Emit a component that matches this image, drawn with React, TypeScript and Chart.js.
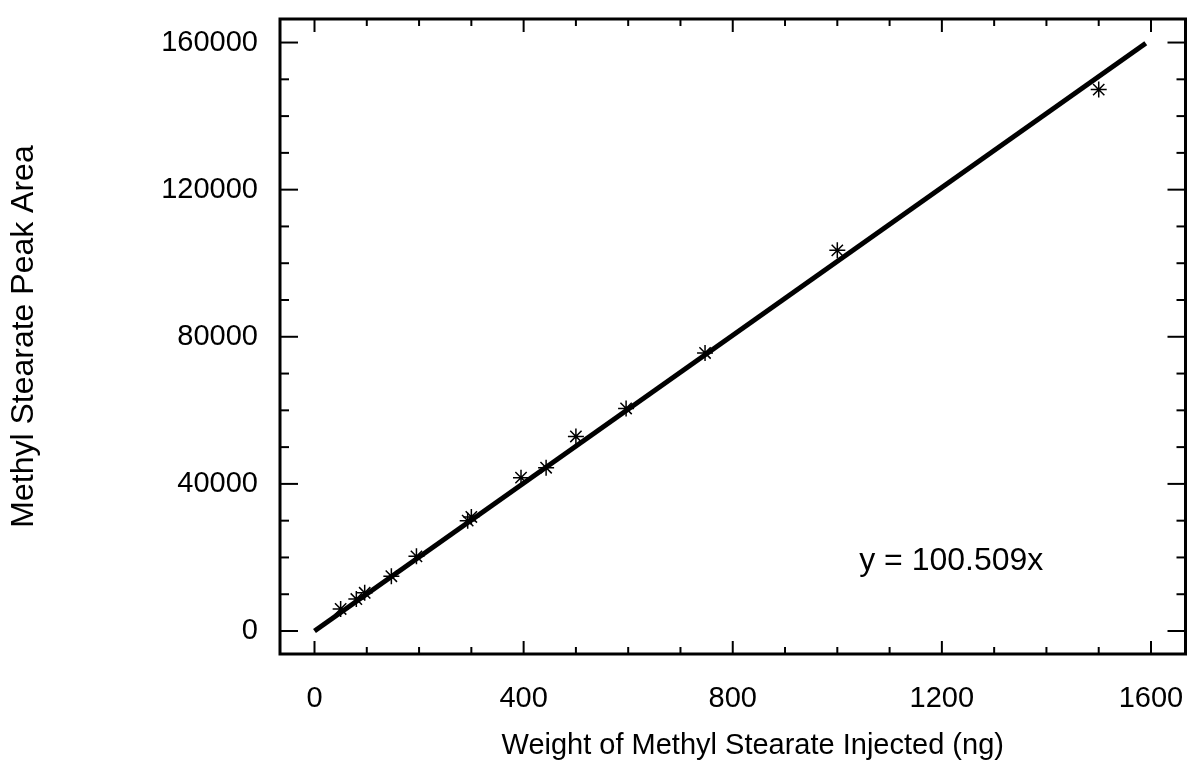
import React, { useEffect, useRef } from "react";
import { Chart, registerables } from "chart.js";

Chart.register(...registerables);

// Measured calibration points (ng injected vs. peak area)
const weightNg = [50, 80, 96, 147, 195, 293, 300, 395, 443, 500, 596, 747, 1000, 1500];
const peakArea = [6000, 8700, 10400, 14900, 20300, 30000, 31000, 41700, 44400, 52900, 60500, 75600, 103500, 147200];

// Fitted regression line y = 100.509x (end points)
const fitX = [0, 1590];
const fitY = [0, 159809];

// Axis tick labels
const xTickLabels = [0, 400, 800, 1200, 1600];
const yTickLabels = [0, 40000, 80000, 120000, 160000];
const xMinorTicks = [0, 100, 200, 300, 400, 500, 600, 700, 800, 900, 1000, 1100, 1200, 1300, 1400, 1500, 1600];
const yMinorTicks = [0, 10000, 20000, 30000, 40000, 50000, 60000, 70000, 80000, 90000, 100000, 110000, 120000, 130000, 140000, 150000, 160000];

const xTitle = "Weight of Methyl Stearate Injected (ng)";
const yTitle = "Methyl Stearate Peak Area";
const equationText = "y = 100.509x";
const equationAt = { x: 1218, y: 19000 };

const FONT = '"Liberation Sans", Arial, Helvetica, sans-serif';

const framePlugin = {
  id: "frameAndInwardTicks",
  afterDatasetsDraw(chart: any) {
    const { ctx, chartArea: a, scales } = chart;
    const xs = scales.x;
    const ys = scales.y;
    ctx.save();
    ctx.strokeStyle = "#000";
    ctx.lineCap = "butt";
    ctx.lineWidth = 2;
    const line = (x1: number, y1: number, x2: number, y2: number) => {
      ctx.beginPath();
      ctx.moveTo(x1, y1);
      ctx.lineTo(x2, y2);
      ctx.stroke();
    };
    xMinorTicks.forEach((v) => {
      const px = xs.getPixelForValue(v);
      const L = xTickLabels.includes(v) ? 13 : 7;
      line(px, a.bottom, px, a.bottom - L);
      line(px, a.top, px, a.top + L);
    });
    yMinorTicks.forEach((v) => {
      const py = ys.getPixelForValue(v);
      const L = yTickLabels.includes(v) ? 18 : 9;
      line(a.left, py, a.left + L, py);
      line(a.right, py, a.right - L, py);
    });
    ctx.lineWidth = 3;
    ctx.strokeRect(a.left, a.top, a.right - a.left, a.bottom - a.top);

    ctx.fillStyle = "#000";
    ctx.textAlign = "center";
    ctx.textBaseline = "middle";
    ctx.font = `32px ${FONT}`;
    ctx.fillText(equationText, xs.getPixelForValue(equationAt.x), ys.getPixelForValue(equationAt.y));

    // x-axis title (slightly right of centre, as in the original)
    ctx.font = `29px ${FONT}`;
    ctx.fillText(xTitle, (a.left + a.right) / 2 + 20, a.bottom + 92);
    ctx.restore();
  },
};

export default function App() {
  const ref = useRef<HTMLCanvasElement | null>(null);

  useEffect(() => {
    if (!ref.current) return;
    const chart = new Chart(ref.current, {
      type: "scatter",
      data: {
        datasets: [
          {
            label: "Fit",
            type: "line",
            data: fitX.map((x, i) => ({ x, y: fitY[i] })),
            borderColor: "#000",
            borderWidth: 5,
            pointRadius: 0,
            fill: false,
            tension: 0,
          },
          {
            label: "Methyl stearate",
            data: weightNg.map((x, i) => ({ x, y: peakArea[i] })),
            pointStyle: "star",
            pointRadius: 8,
            borderColor: "#000",
            backgroundColor: "#000",
            borderWidth: 1.5,
          },
        ],
      },
      options: {
        responsive: false,
        animation: false,
        layout: { padding: { top: 19, right: 6, left: 0, bottom: 0 } },
        plugins: { legend: { display: false }, tooltip: { enabled: false } },
        scales: {
          x: {
            type: "linear",
            min: -66,
            max: 1666,
            grid: { display: false, drawTicks: false },
            border: { display: false },
            afterBuildTicks: (s: any) => {
              s.ticks = xTickLabels.map((value) => ({ value }));
            },
            afterFit: (s: any) => {
              s.height = 107;
              s.paddingLeft = 0;
              s.paddingRight = 0;
              s.paddingTop = 0;
              s.paddingBottom = 0;
            },
            ticks: {
              color: "#000",
              font: { family: FONT, size: 29 },
              padding: 28,
              maxRotation: 0,
              autoSkip: false,
              callback: (v: any) => String(v),
            },
            title: { display: false },
          },
          y: {
            type: "linear",
            min: -6250,
            max: 166400,
            grid: { display: false, drawTicks: false },
            border: { display: false },
            afterBuildTicks: (s: any) => {
              s.ticks = yTickLabels.map((value) => ({ value }));
            },
            afterFit: (s: any) => {
              s.width = 280;
              s.paddingLeft = 0;
              s.paddingRight = 0;
              s.paddingTop = 0;
              s.paddingBottom = 0;
            },
            ticks: {
              color: "#000",
              font: { family: FONT, size: 29 },
              padding: 22,
              autoSkip: false,
              callback: (v: any) => String(v),
            },
            title: {
              display: true,
              text: yTitle,
              color: "#000",
              font: { family: FONT, size: 32 },
              padding: { top: 5, bottom: 0 },
            },
          },
        },
      },
      plugins: [framePlugin],
    });
    return () => chart.destroy();
  }, []);

  return (
    <div style={{ position: "absolute", left: 0, top: 0, width: 1195, height: 761, background: "#fff" }}>
      <canvas ref={ref} width={1195} height={761} style={{ display: "block" }} />
    </div>
  );
}
